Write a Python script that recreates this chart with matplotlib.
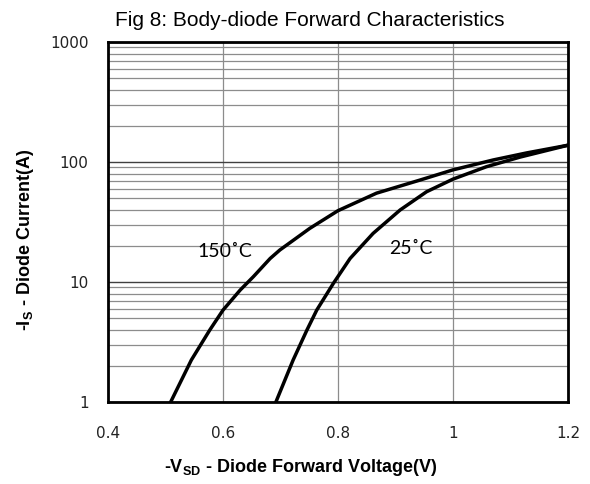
import numpy as np
import matplotlib.pyplot as plt
from matplotlib.ticker import FixedLocator, NullFormatter, LogLocator

plt.rcParams['mathtext.fontset'] = 'custom'
plt.rcParams['mathtext.bf'] = 'Liberation Sans:bold'
plt.rcParams['mathtext.rm'] = 'Liberation Sans:bold'

# Body-diode forward curves
v_150 = [0.509, 0.545, 0.577, 0.600, 0.630, 0.653, 0.682, 0.699, 0.751, 0.800,
         0.867, 0.943, 1.000, 1.070, 1.128, 1.200]
i_150 = [1.0, 2.24, 3.98, 5.83, 8.58, 11.1, 15.7, 18.5, 28.0, 39.3,
         55.0, 70.8, 86.0, 104.0, 119.0, 138.0]

v_25 = [0.692, 0.722, 0.746, 0.763, 0.792, 0.821, 0.861, 0.908, 0.954,
        1.000, 1.058, 1.117, 1.200]
i_25 = [1.0, 2.24, 3.98, 5.83, 9.75, 15.7, 25.4, 39.8, 56.5,
        72.0, 91.3, 110.0, 138.0]

xticks = [0.4, 0.6, 0.8, 1.0, 1.2]
xtick_labels = ['0.4', '0.6', '0.8', '1', '1.2']
yticks = [1, 10, 100, 1000]
ytick_labels = ['1', '10', '100', '1000']

fig = plt.figure(figsize=(5.9, 4.84), dpi=100)
ax = fig.add_axes([108/590, 82/484, 460/590, 360/484])

ax.set_yscale('log')
ax.set_xlim(0.4, 1.2)
ax.set_ylim(1, 1000)

# grid
ax.yaxis.set_minor_locator(LogLocator(base=10, subs=np.arange(2, 10)))
ax.yaxis.set_minor_formatter(NullFormatter())
ax.grid(True, which='minor', axis='y', color='#8c8c8c', lw=0.9)
ax.grid(True, which='major', axis='y', color='#404040', lw=1.0)
ax.grid(True, which='major', axis='x', color='#8c8c8c', lw=0.9)
ax.set_axisbelow(True)

ax.plot(v_150, i_150, color='black', lw=2.5, solid_joinstyle='round')
ax.plot(v_25, i_25, color='black', lw=2.5, solid_joinstyle='round')

ax.set_xticks(xticks)
ax.set_xticklabels(xtick_labels)
ax.yaxis.set_major_locator(FixedLocator(yticks))
ax.set_yticklabels(ytick_labels)
ax.tick_params(which='both', length=0, labelsize=11, colors='#222222')
ax.tick_params(axis='x', pad=17)
ax.tick_params(axis='y', pad=14)
for lab in ax.get_xticklabels() + ax.get_yticklabels():
    lab.set_family('DejaVu Sans')

for s in ax.spines.values():
    s.set_linewidth(2)
    s.set_color('black')

ax.text(0.6035, 17.8, '150˚C', fontsize=14, family='Lato', ha='center', va='center')
ax.text(0.927, 19.2, '25˚C', fontsize=14, family='Lato', ha='center', va='center')

fig.text(115/590, 1 - 20/484, 'Fig 8: Body-diode Forward Characteristics',
         fontsize=15, family='Liberation Sans', ha='left', va='center')
fig.text(301/590, 1 - 467/484, r'-V$_{\mathbf{SD}}$ - Diode Forward Voltage(V)',
         fontsize=13, family='Liberation Sans', weight='bold', ha='center', va='center')
fig.text(26/590, 1 - 240/484, r'-I$_{\mathbf{S}}$ - Diode Current(A)',
         fontsize=13, family='Liberation Sans', weight='bold', ha='center', va='center',
         rotation=90)

fig.savefig('out.png', dpi=100)
